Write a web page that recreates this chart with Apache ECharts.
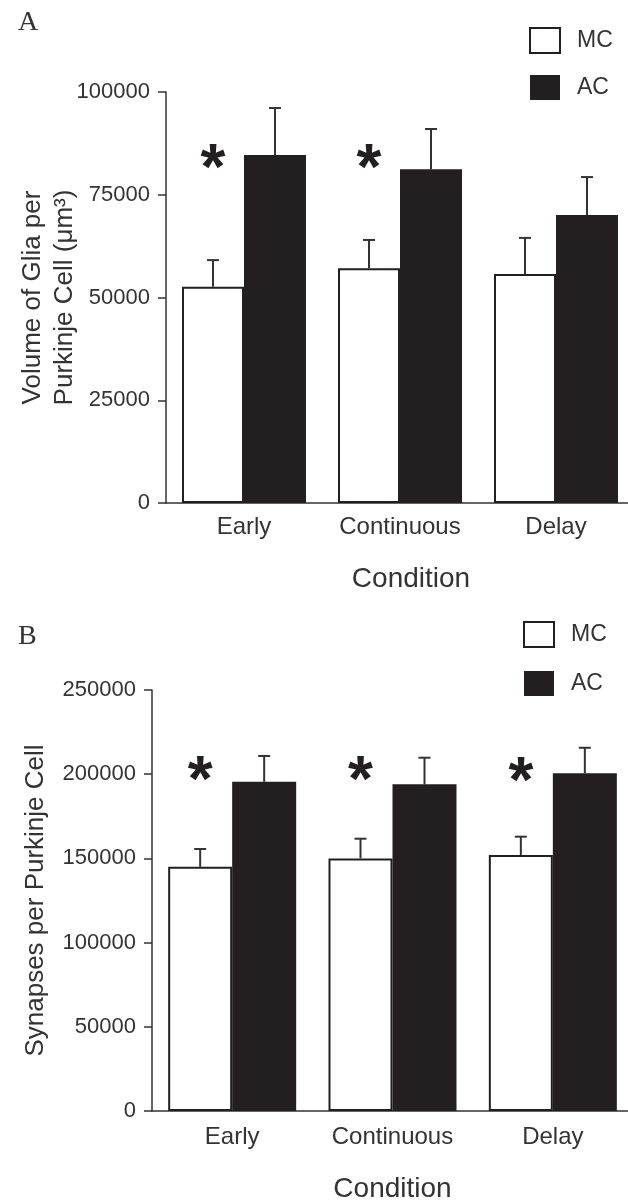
<!DOCTYPE html>
<html>
<head>
<meta charset="utf-8">
<script src="https://cdn.jsdelivr.net/npm/echarts@6/dist/echarts.min.js"></script>
<style>
  html, body { margin: 0; padding: 0; background: #fff; }
  #chart { width: 628px; height: 1203px; }
</style>
</head>
<body>
<div id="chart"></div>
<script>
const categories = ["Early", "Continuous", "Delay"];

// panel A: volume of glia per Purkinje cell
const gliaMC = [52600, 57100, 55700];
const gliaMCUpper = [59100, 64000, 64500];
const gliaAC = [84700, 81200, 70100];
const gliaACUpper = [96100, 91000, 79300];
const gliaStars = [84400, 84400, null];
const gliaTicks = { max: 100000, interval: 25000 };

// panel B: synapses per Purkinje cell
const synMC = [145000, 150000, 152000];
const synMCUpper = [155600, 161700, 162900];
const synAC = [195500, 194000, 200500];
const synACUpper = [210800, 209800, 215700];
const synStars = [203700, 203700, 202800];
const synTicks = { max: 250000, interval: 50000 };

const ink = "#231f20";
const txt = "#333";
const font = "'Liberation Sans', Arial, sans-serif";
const barW = [62, 64];

const chart = echarts.init(document.getElementById("chart"));

function errorSeries(gi, name, values, upper, side) {
    return {
        type: "custom",
        name: name,
        xAxisIndex: gi,
        yAxisIndex: gi,
        z: 5,
        silent: true,
        data: values.map((v, i) => [i, v, upper[i]]),
        renderItem: function (params, api) {
            const top = api.coord([api.value(0), api.value(2)]);
            const base = api.coord([api.value(0), api.value(1)]);
            const x = top[0] + side * barW[gi] / 2;
            const st = { stroke: txt, lineWidth: 2 };
            return {
                type: "group",
                children: [
                    { type: "line", shape: { x1: x, y1: base[1], x2: x, y2: top[1] }, style: st },
                    { type: "line", shape: { x1: x - 6, y1: top[1], x2: x + 6, y2: top[1] }, style: st }
                ]
            };
        }
    };
}

function starSeries(gi, stars) {
    return {
        type: "custom",
        xAxisIndex: gi,
        yAxisIndex: gi,
        z: 6,
        silent: true,
        data: stars.map((v, i) => [i, v]).filter(d => d[1] != null),
        renderItem: function (params, api) {
            const p = api.coord([api.value(0), api.value(1)]);
            return {
                type: "text",
                style: {
                    text: "*",
                    x: p[0] - barW[gi] / 2,
                    y: p[1] + 15,
                    align: "center",
                    verticalAlign: "middle",
                    font: "bold 64px " + font,
                    fill: ink
                }
            };
        }
    };
}

function barSeries(gi, name, values) {
    const mc = name === "MC";
    return {
        type: "bar",
        name: name,
        xAxisIndex: gi,
        yAxisIndex: gi,
        data: values,
        barWidth: barW[gi],
        barGap: "0%",
        itemStyle: mc ? { color: "#fff", borderColor: ink, borderWidth: 2 } : { color: ink },
        emphasis: { disabled: true }
    };
}

function yAxis(gi, ticks, name, gap) {
    return {
        type: "value",
        gridIndex: gi,
        min: 0,
        max: ticks.max,
        interval: ticks.interval,
        splitLine: { show: false },
        axisLine: { show: true, lineStyle: { color: txt, width: 1.5 } },
        axisTick: { show: true, length: 8, lineStyle: { color: txt, width: 1.5 } },
        axisLabel: { color: txt, fontSize: 22, fontFamily: font, margin: 16, formatter: v => String(v) },
        name: name,
        nameLocation: "middle",
        nameGap: gap,
        nameMoveOverlap: false,
        nameTextStyle: { color: txt, fontSize: 26, lineHeight: 32, fontFamily: font }
    };
}

function xAxis(gi, labelMargin, nameGap, shift) {
    return {
        type: "category",
        gridIndex: gi,
        data: categories,
        axisLine: { lineStyle: { color: txt, width: 1.5 } },
        axisTick: { show: false },
        axisLabel: { color: txt, fontSize: 24, fontFamily: font, margin: labelMargin, interval: 0, hideOverlap: false },
        name: "Condition",
        nameLocation: "middle",
        nameGap: nameGap,
        nameMoveOverlap: false,
        nameTextStyle: { color: txt, fontSize: 28, fontFamily: font, padding: [0, 0, 0, shift] }
    };
}

function legend(left, top, gap) {
    return {
        orient: "vertical",
        left: left,
        top: top,
        padding: 0,
        itemWidth: 30,
        itemHeight: 25,
        itemGap: gap,
        icon: "rect",
        selectedMode: false,
        data: ["MC", "AC"],
        textStyle: { color: txt, fontSize: 23, fontFamily: font, padding: [0, 0, 0, 12] }
    };
}

const option = {
    animation: false,
    backgroundColor: "#fff",
    title: [
        { text: "A", left: 13, top: 4, textStyle: { fontFamily: "'Liberation Serif', 'Times New Roman', serif", fontSize: 28, fontWeight: "normal", color: txt } },
        { text: "B", left: 13, top: 618, textStyle: { fontFamily: "'Liberation Serif', 'Times New Roman', serif", fontSize: 28, fontWeight: "normal", color: txt } }
    ],
    legend: [legend(529, 27, 21), legend(523, 621, 23)],
    grid: [
        { left: 166, top: 92, width: 468, height: 411, containLabel: false, outerBoundsMode: "none" },
        { left: 152, top: 690, width: 481, height: 421, containLabel: false, outerBoundsMode: "none" }
    ],
    xAxis: [xAxis(0, 12, 62, 22), xAxis(1, 14, 64, 0)],
    yAxis: [
        yAxis(0, gliaTicks, "Volume of Glia per\nPurkinje Cell (μm³)", 85),
        yAxis(1, synTicks, "Synapses per Purkinje Cell", 100)
    ],
    series: [
        barSeries(0, "MC", gliaMC),
        barSeries(0, "AC", gliaAC),
        errorSeries(0, "MC", gliaMC, gliaMCUpper, -1),
        errorSeries(0, "AC", gliaAC, gliaACUpper, 1),
        starSeries(0, gliaStars),
        barSeries(1, "MC", synMC),
        barSeries(1, "AC", synAC),
        errorSeries(1, "MC", synMC, synMCUpper, -1),
        errorSeries(1, "AC", synAC, synACUpper, 1),
        starSeries(1, synStars)
    ]
};

chart.setOption(option);
</script>
</body>
</html>
